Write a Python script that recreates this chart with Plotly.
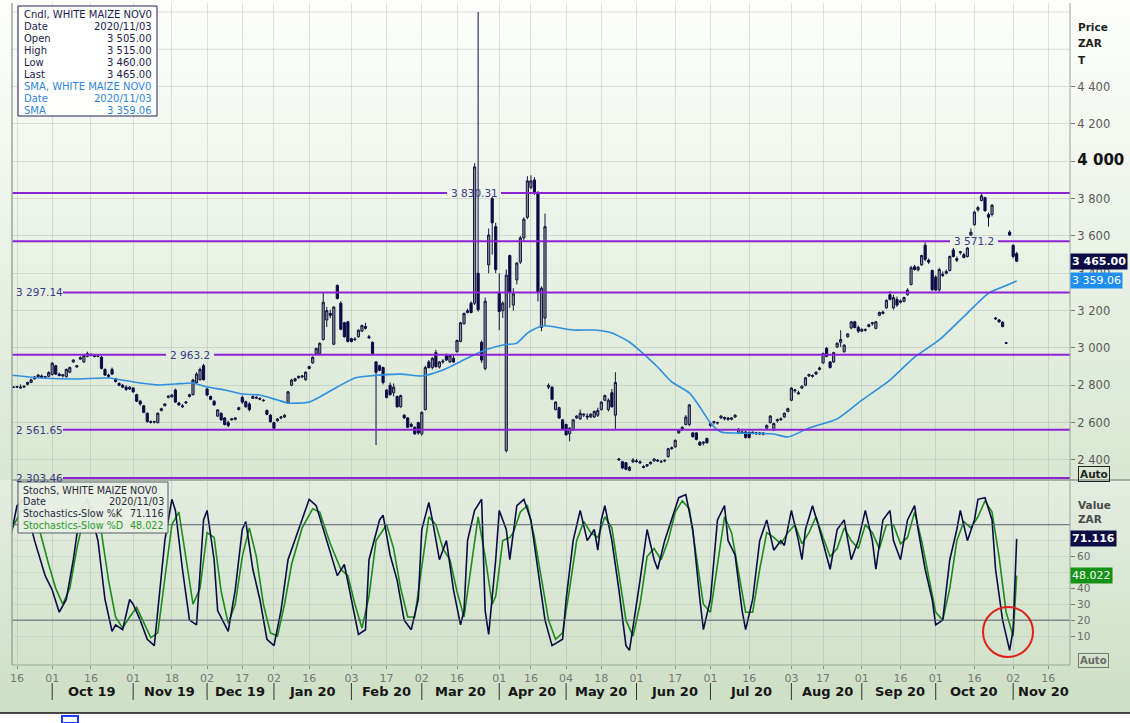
import plotly.graph_objects as go
import pandas as pd

# ---------------- DATA ----------------
holidays = ["2019-09-24", "2019-12-16", "2019-12-25", "2019-12-26", "2020-01-01",
            "2020-04-10", "2020-04-13", "2020-04-27", "2020-05-01", "2020-06-16",
            "2020-08-10", "2020-09-24"]
trade_dates = pd.bdate_range("2019-09-12", periods=287, freq="C", holidays=holidays)

opens = [
 2760,2788,2790,2785,2790,2805,2815,2835,2845,2850,2842,2848,2858,2905,2860,2850,2846,2870,2925,2898,
 2940,2925,2955,2965,2960,2955,2950,2885,2855,2885,2835,2810,2800,2790,2780,2785,2750,2715,2690,2650,
 2605,2603,2600,2665,2690,2735,2738,2775,2705,2690,2705,2740,2750,2815,2830,2905,2780,2740,2715,2635,
 2650,2625,2600,2615,2618,2670,2735,2712,2700,2730,2735,2730,2720,2665,2640,2600,2610,2625,2630,2705,
 2800,2825,2840,2845,2830,2890,2920,2968,2970,3045,3150,3185,3020,3335,3240,3135,3140,3050,3048,3060,
 3090,3115,3060,3030,2925,2905,2895,2775,2800,2760,2740,2685,2640,2625,2590,2575,2600,2540,2670,2925,
 2895,2975,2898,2925,2960,2925,2945,2980,3035,3130,3190,3240,3240,3400,3030,2890,3445,3800,3650,3295,
 3200,2450,3495,3230,3365,3460,3590,3700,3860,3900,3830,3110,3160,2790,2790,2670,2680,2615,2590,2540,
 2560,2625,2620,2640,2635,2630,2630,2640,2670,2720,2670,2760,2640,2400,2390,2385,2360,2390,2395,2390,
 2365,2368,2380,2395,2398,2392,2395,2418,2460,2470,2545,2560,2590,2590,2545,2545,2495,2490,2515,2585,
 2600,2598,2625,2620,2625,2618,2630,2545,2550,2550,2548,2545,2540,2545,2538,2570,2600,2560,2610,2615,
 2630,2660,2720,2770,2760,2785,2800,2850,2848,2860,2885,2920,2998,2925,2925,3005,3030,2980,3060,3107,
 3140,3110,3090,3095,3115,3130,3105,3175,3185,3215,3285,3215,3260,3245,3250,3285,3340,3435,3418,3445,
 3550,3470,3415,3380,3312,3395,3400,3415,3525,3478,3510,3500,3490,3605,3660,3740,3790,3805,3715,3715,
 3155,3150,3138,3028,3620,3550,3505]
highs = [
 2768,2795,2797,2805,2798,2820,2835,2850,2860,2858,2850,2875,2925,2910,2868,2860,2890,2900,2940,2908,
 2955,2965,2980,2972,2966,2965,2958,2890,2862,2895,2840,2815,2808,2800,2795,2790,2755,2722,2695,2655,
 2612,2610,2655,2680,2705,2748,2752,2782,2712,2700,2715,2755,2835,2870,2895,2915,2785,2745,2720,2672,
 2655,2630,2610,2625,2628,2685,2745,2718,2710,2745,2742,2736,2726,2670,2645,2605,2625,2635,2645,2770,
 2835,2840,2852,2855,2875,2905,2955,3000,3030,3295,3220,3205,3225,3340,3250,3140,3145,3055,3058,3100,
 3125,3135,3070,3035,2930,2910,2900,2780,2815,2810,2745,2750,2645,2630,2600,2580,2605,2660,2905,2935,
 2950,2990,2930,2940,2970,2965,2965,3045,3140,3190,3210,3250,3990,4800,3040,3270,3640,3810,3670,3400,
 3250,3420,3500,3320,3460,3600,3700,3920,3925,3915,3840,3330,3720,2810,2795,2715,2685,2620,2595,2575,
 2620,2640,2670,2650,2650,2650,2665,2680,2715,2750,2730,2780,2870,2410,2395,2390,2368,2410,2405,2398,
 2372,2378,2392,2410,2405,2400,2402,2465,2472,2510,2565,2580,2640,2700,2550,2550,2500,2500,2520,2600,
 2610,2605,2640,2632,2630,2630,2645,2570,2558,2555,2552,2552,2550,2550,2548,2590,2640,2600,2622,2628,
 2655,2680,2790,2780,2770,2800,2845,2862,2858,2875,2900,2975,3005,2930,2980,3030,3095,3020,3080,3145,
 3145,3120,3105,3105,3130,3140,3145,3195,3200,3260,3305,3285,3275,3260,3275,3320,3440,3445,3440,3500,
 3567,3480,3420,3390,3430,3410,3420,3495,3535,3490,3520,3510,3540,3640,3735,3760,3825,3810,3725,3770,
 3165,3155,3142,3032,3630,3555,3515]
lows = [
 2755,2785,2786,2783,2788,2800,2812,2830,2840,2838,2838,2845,2852,2855,2848,2842,2842,2865,2922,2895,
 2938,2920,2950,2955,2950,2950,2885,2850,2840,2855,2815,2795,2785,2770,2775,2760,2710,2690,2650,2600,
 2595,2595,2595,2660,2688,2730,2735,2705,2690,2680,2700,2735,2745,2810,2825,2825,2740,2720,2690,2630,
 2610,2585,2575,2610,2612,2665,2700,2680,2660,2728,2728,2720,2712,2640,2600,2565,2605,2618,2625,2700,
 2795,2818,2835,2838,2825,2885,2915,2962,2965,3040,3112,3160,3015,3260,3095,3055,3030,3030,3038,3055,
 3085,3098,3050,2965,2480,2875,2805,2730,2745,2740,2680,2680,2620,2570,2575,2535,2535,2530,2665,2890,
 2885,2895,2890,2915,2930,2920,2920,2975,3030,3125,3185,3185,3230,3195,2920,2880,3400,3500,3400,3095,
 3160,2440,3215,3200,3340,3450,3570,3690,3850,3820,3250,3090,3120,2780,2720,2665,2620,2560,2530,2500,
 2555,2620,2615,2630,2615,2625,2625,2630,2665,2715,2660,2680,2560,2395,2350,2345,2340,2385,2385,2380,
 2355,2362,2375,2390,2390,2385,2388,2412,2455,2465,2540,2555,2585,2580,2520,2505,2475,2478,2488,2575,
 2590,2590,2620,2612,2610,2612,2625,2540,2540,2515,2515,2538,2535,2535,2532,2565,2595,2555,2600,2610,
 2625,2655,2715,2760,2750,2780,2795,2845,2840,2855,2880,2915,2950,2890,2920,3000,3005,2975,3055,3100,
 3105,3080,3085,3088,3110,3120,3100,3170,3180,3210,3255,3205,3220,3238,3245,3280,3335,3415,3410,3440,
 3465,3450,3305,3305,3300,3380,3395,3410,3485,3460,3500,3480,3485,3600,3655,3730,3785,3730,3650,3705,
 3150,3135,3110,3022,3600,3480,3460]
closes = [
 2765,2790,2793,2790,2795,2815,2830,2845,2855,2842,2846,2868,2918,2860,2852,2856,2885,2895,2935,2905,
 2948,2960,2970,2960,2955,2958,2890,2855,2848,2860,2820,2800,2790,2778,2790,2765,2715,2700,2655,2605,
 2602,2605,2650,2675,2700,2742,2748,2710,2695,2685,2710,2750,2828,2860,2885,2830,2748,2725,2695,2668,
 2615,2590,2585,2620,2625,2680,2710,2685,2670,2740,2732,2726,2718,2645,2605,2570,2620,2630,2640,2765,
 2828,2835,2848,2850,2870,2900,2950,2998,3025,3245,3200,3175,3219,3265,3100,3060,3035,3035,3045,3095,
 3120,3105,3055,2970,2870,2880,2815,2735,2750,2790,2685,2745,2625,2575,2580,2540,2545,2655,2895,2895,
 2945,2900,2925,2930,2935,2960,2925,3040,3135,3185,3200,3190,3970,3205,2935,3250,3605,3670,3420,3195,
 3240,3390,3300,3290,3455,3590,3690,3895,3895,3830,3300,3320,3650,2800,2725,2710,2625,2565,2535,2570,
 2615,2635,2650,2645,2630,2645,2660,2665,2710,2745,2720,2685,2815,2405,2357,2350,2345,2400,2392,2385,
 2360,2375,2388,2405,2395,2390,2398,2460,2465,2505,2560,2575,2630,2695,2525,2510,2480,2495,2492,2595,
 2605,2600,2635,2628,2618,2625,2640,2565,2545,2520,2520,2548,2545,2540,2544,2585,2635,2595,2615,2620,
 2650,2675,2785,2775,2755,2795,2840,2858,2852,2870,2893,2970,2955,2895,2975,3025,3045,3015,3075,3140,
 3110,3090,3100,3098,3125,3135,3140,3190,3192,3255,3260,3270,3230,3252,3270,3310,3430,3420,3432,3495,
 3475,3460,3312,3310,3420,3390,3410,3490,3490,3470,3515,3485,3535,3620,3728,3752,3815,3735,3700,3765,
 3160,3140,3115,3025,3605,3490,3465]

# trading-day numbers counted from 16 Sep 2019
sma_day = [-2, 7, 17, 26, 35, 40, 45, 50, 54, 59, 64, 69, 74, 77, 83, 91, 96, 100, 109, 115, 121,
           128, 133, 138, 142, 145, 149, 151, 158, 164, 169, 174, 179, 182, 186, 191, 194, 197,
           200, 205, 215, 219, 225, 233, 240, 248, 255, 262, 270, 276, 280, 284]
sma_val = [2855, 2839, 2834, 2839, 2812, 2802, 2807, 2812, 2791, 2775, 2753, 2748, 2721, 2705,
           2710, 2791, 2839, 2850, 2860, 2850, 2882, 2946, 2989, 3016, 3026, 3080, 3118, 3118,
           3096, 3096, 3080, 3032, 2951, 2898, 2818, 2759, 2684, 2598, 2550, 2544, 2539, 2523,
           2571, 2620, 2720, 2828, 2951, 3043, 3187, 3294, 3327, 3359.06]

k_day = [-2, 0, 2, 5, 8, 10, 12, 14, 16, 18, 20, 23, 25, 27, 28, 30, 32, 33, 35, 37, 39, 40, 42, 44,
         45, 47, 49, 51, 53, 54, 56, 57, 60, 62, 64, 65, 67, 69, 71, 73, 75, 77, 80, 83, 85, 88, 91,
         93, 95, 97, 99, 100, 103, 104, 106, 108, 110, 112, 114, 115, 117, 118, 120, 122, 124, 126,
         127, 128, 130, 132, 133, 134, 136, 137, 139, 140, 142, 144, 146, 148, 150, 152, 155, 156,
         158, 160, 162, 164, 165, 166, 167, 169, 171, 173, 174, 177, 179, 181, 182, 184, 186, 188,
         190, 192, 194, 195, 197, 199, 201, 202, 204, 206, 207, 209, 211, 213, 215, 217, 218, 220,
         222, 223, 224, 226, 228, 231, 233, 235, 237, 239, 241, 243, 244, 246, 248, 249, 251, 253,
         255, 256, 258, 260, 261, 263, 265, 267, 268, 270, 272, 273, 275, 277, 278, 280, 282, 283, 284]
k_val = [70, 92, 96, 70, 48, 39, 25, 33, 58, 89, 96, 70, 33, 13, 17, 14, 33, 30, 20, 8, 4, 26, 70, 96,
         89, 52, 20, 17, 83, 89, 58, 26, 13, 39, 77, 82, 52, 33, 8, 4, 26, 58, 77, 96, 92, 70, 48,
         55, 33, 11, 14, 58, 83, 86, 61, 45, 20, 14, 33, 77, 94, 83, 58, 70, 39, 17,
         26, 70, 89, 96, 26, 11, 58, 89, 77, 58, 92, 96, 83, 52, 20, 4, 8, 33,
         70, 89, 70, 77, 64, 83, 92, 70, 39, 4, 1, 45, 77, 58, 52, 70, 83, 97,
         99, 77, 33, 14, 33, 83, 92, 70, 61, 26, 14, 33, 70, 83, 64, 70, 67, 89,
         70, 58, 77, 92, 77, 52, 77, 83, 58, 70, 89, 70, 52, 83, 89, 70, 58, 83,
         92, 77, 52, 33, 17, 20, 58, 77, 89, 70, 83, 96, 97, 83, 52, 20, 1, 14, 71.116]

d_day = [-2, 1, 3, 6, 9, 11, 13, 15, 17, 19, 21, 24, 26, 28, 30, 32, 34, 36, 38, 40, 42, 44, 46, 48,
         50, 52, 54, 56, 58, 60, 62, 64, 66, 68, 70, 72, 74, 76, 78, 81, 84, 86, 89, 92, 94, 96, 98,
         100, 102, 105, 107, 109, 111, 113, 115, 117, 119, 121, 123, 125, 127, 129, 131, 133, 135,
         136, 138, 140, 141, 143, 145, 147, 149, 151, 153, 155, 157, 159, 161, 163, 165, 167, 169,
         171, 173, 175, 177, 179, 181, 183, 185, 187, 189, 191, 193, 195, 197, 199, 201, 203, 205,
         207, 209, 211, 213, 215, 217, 219, 221, 223, 225, 227, 229, 231, 233, 235, 237, 239, 241,
         243, 245, 247, 249, 251, 253, 255, 257, 259, 261, 263, 265, 267, 269, 271, 273, 275, 277,
         279, 281, 283, 284]
d_val = [75, 88, 92, 80, 55, 40, 30, 40, 65, 85, 92, 75, 45, 22, 15, 22, 28, 18, 9, 12, 45, 80, 88, 60,
         30, 40, 75, 72, 38, 18, 30, 60, 78, 60, 30, 12, 10, 30, 55, 78, 90, 88, 68, 52, 48, 30, 15,
         35, 70, 80, 65, 40, 22, 22, 55, 85, 80, 65, 58, 38, 22, 55, 85, 60, 30,
         35, 70, 72, 75, 88, 92, 72, 45, 20, 8, 12, 40, 70, 82, 75, 72, 85, 78,
         50, 20, 10, 30, 60, 65, 58, 70, 88, 95, 90, 60, 30, 25, 55, 85, 75, 50,
         25, 25, 52, 75, 72, 68, 75, 80, 68, 75, 85, 72, 60, 65, 78, 70, 65, 80,
         75, 65, 80, 80, 68, 72, 88, 70, 48, 25, 20, 40, 70, 82, 78, 85, 95, 88,
         60, 25, 10, 48.022]

level_values = [3830.31, 3571.2, 3297.14, 2963.2, 2561.65, 2303.46]
level_labels = ["3 830.31", "3 571.2", "3 297.14", "2 963.2", "2 561.65", "2 303.46"]

price_ticks = [2400, 2600, 2800, 3000, 3200, 3400, 3600, 3800, 4000, 4200, 4400]
price_ticktext = ["2 400", "2 600", "2 800", "3 000", "3 200", "3 400", "3 600", "3 800",
                  "<span style='font-size:15px;color:#111'><b>4 000</b></span>", "4 200", "4 400"]
stoch_ticks = [10, 20, 30, 40, 50, 60, 70]
stoch_ticktext = ["10", "20", "30", "40", "", "60", ""]

day_tick_dates = ["2019-09-16", "2019-10-01", "2019-10-16", "2019-11-01", "2019-11-18",
                  "2019-12-02", "2019-12-17", "2020-01-02", "2020-01-16", "2020-02-03",
                  "2020-02-17", "2020-03-02", "2020-03-16", "2020-04-01", "2020-04-16",
                  "2020-05-04", "2020-05-18", "2020-06-01", "2020-06-17", "2020-07-01",
                  "2020-07-16", "2020-08-03", "2020-08-17", "2020-09-01", "2020-09-16",
                  "2020-10-01", "2020-10-16", "2020-11-02", "2020-11-16"]
day_tick_text = ["16", "01", "16", "01", "18", "02", "17", "02", "16", "03", "17", "02", "16",
                 "01", "16", "04", "18", "01", "17", "01", "16", "03", "17", "01", "16", "01",
                 "16", "02", "16"]
month_starts = ["2019-10-01", "2019-11-01", "2019-12-02", "2020-01-02", "2020-02-03",
                "2020-03-02", "2020-04-01", "2020-05-04", "2020-06-01", "2020-07-01",
                "2020-08-03", "2020-09-01", "2020-10-01", "2020-11-02"]
month_labels = ["Oct 19", "Nov 19", "Dec 19", "Jan 20", "Feb 20", "Mar 20", "Apr 20",
                "May 20", "Jun 20", "Jul 20", "Aug 20", "Sep 20", "Oct 20", "Nov 20"]

# ---------------- helpers (pixel -> paper, layout only) ----------------
W, H = 1130, 723
ML, MR, MT, MB = 12, 60, 3, 58
PW, PH = W - ML - MR, H - MT - MB


def px(x):
    return (x - ML) / PW


def py(y):
    return (H - MB - y) / PH


day0 = trade_dates.get_loc(pd.Timestamp("2019-09-16"))
FONT = "DejaVu Sans"
NAVY = "#0b0b45"
PURPLE = "#8a24d4"

fig = go.Figure()

fig.add_trace(go.Candlestick(
    x=trade_dates, open=opens, high=highs, low=lows, close=closes,
    increasing=dict(line=dict(color="#14143f", width=1), fillcolor="#8b8e98"),
    decreasing=dict(line=dict(color=NAVY, width=1), fillcolor=NAVY),
    whiskerwidth=0, xaxis="x", yaxis="y", showlegend=False, hoverinfo="skip"))

fig.add_trace(go.Scatter(
    x=[trade_dates[day0 + d] for d in sma_day], y=sma_val, mode="lines",
    line=dict(color="#2d8fe0", width=1.6, shape="spline", smoothing=0.6),
    xaxis="x", yaxis="y", showlegend=False, hoverinfo="skip"))

fig.add_trace(go.Scatter(
    x=[trade_dates[day0 + d] for d in d_day], y=d_val, mode="lines",
    line=dict(color="#1d8a1d", width=1.6), xaxis="x", yaxis="y2",
    showlegend=False, hoverinfo="skip"))
fig.add_trace(go.Scatter(
    x=[trade_dates[day0 + d] for d in k_day], y=k_val, mode="lines",
    line=dict(color=NAVY, width=1.6), xaxis="x", yaxis="y2",
    showlegend=False, hoverinfo="skip"))

shapes = []


def mix(c1, c2, t):
    return "rgb(%d,%d,%d)" % tuple(round(a + (b - a) * t) for a, b in zip(c1, c2))


N = 40
for k in range(N):
    y0 = 480 * k / N
    y1 = 480 * (k + 1) / N + 0.5
    shapes.append(dict(type="rect", xref="paper", yref="paper", x0=px(0), x1=px(W),
                       y0=py(y1), y1=py(y0), fillcolor=mix((253, 254, 252), (217, 231, 210), k / (N - 1)),
                       line=dict(width=0), layer="below"))
for k in range(N):
    y0 = 480 + 233 * k / N
    y1 = 480 + 233 * (k + 1) / N + 0.5
    shapes.append(dict(type="rect", xref="paper", yref="paper", x0=px(0), x1=px(W),
                       y0=py(y1), y1=py(y0), fillcolor=mix((228, 237, 224), (205, 223, 197), k / (N - 1)),
                       line=dict(width=0), layer="below"))

for gv in [4600, 4800]:
    shapes.append(dict(type="line", xref="paper", yref="y", x0=0, x1=1, y0=gv, y1=gv,
                       line=dict(color="rgba(160,170,160,0.35)", width=1), layer="below"))

level_place = {"3 830.31": ("mid", 474, 27), "3 571.2": ("mid", 974, 24), "2 963.2": ("mid", 190, 24),
               "3 297.14": ("left", 14, 0), "2 561.65": ("left", 14, 0), "2 303.46": ("left", 14, 0)}
annotations = []
for val, lab in zip(level_values, level_labels):
    kind, cx, half = level_place[lab]
    if kind == "mid":
        segs = [(12, cx - half), (cx + half, 1070)]
        annotations.append(dict(x=px(cx), y=val, xref="paper", yref="y", text=lab, showarrow=False,
                                xanchor="center", yanchor="middle",
                                font=dict(family=FONT, size=10.5, color="#3a3a8a")))
    else:
        segs = [(63, 1070)]
        annotations.append(dict(x=px(cx), y=val, xref="paper", yref="y", text=lab, showarrow=False,
                                xanchor="left", yanchor="middle",
                                font=dict(family=FONT, size=10.5, color="#3a3a8a")))
    for a, b in segs:
        shapes.append(dict(type="line", xref="paper", yref="y", x0=px(a), x1=px(b), y0=val, y1=val,
                           line=dict(color=PURPLE, width=2), layer="above"))

for lv in [80, 20]:
    shapes.append(dict(type="line", xref="paper", yref="y2", x0=0, x1=1, y0=lv, y1=lv,
                       line=dict(color="#56616c", width=1), layer="above"))

shapes.append(dict(type="line", xref="paper", yref="paper", x0=px(12), x1=px(1130), y0=py(480), y1=py(480),
                   line=dict(color="#8e9a8e", width=1.5)))
shapes.append(dict(type="line", xref="paper", yref="paper", x0=0, x1=0, y0=0, y1=1,
                   line=dict(color="#9aa69a", width=1.5)))
shapes.append(dict(type="line", xref="paper", yref="paper", x0=1, x1=1, y0=0, y1=1,
                   line=dict(color="#9aa69a", width=1)))
shapes.append(dict(type="line", xref="paper", yref="paper", x0=0, x1=1, y0=0, y1=0,
                   line=dict(color="#9aa69a", width=1)))

for ms in month_starts:
    shapes.append(dict(type="line", xref="x", yref="paper", x0=ms, x1=ms, y0=py(700), y1=py(683),
                       line=dict(color="#333", width=1)))

shapes.append(dict(type="circle", xref="paper", yref="paper", x0=px(983), x1=px(1033),
                   y0=py(657), y1=py(607), line=dict(color="#e0201c", width=2)))

shapes.append(dict(type="rect", xref="paper", yref="paper", x0=px(0), x1=px(W), y0=py(H), y1=py(713),
                   fillcolor="white", line=dict(width=0)))
shapes.append(dict(type="line", xref="paper", yref="paper", x0=px(0), x1=px(W), y0=py(713), y1=py(713),
                   line=dict(color="#111", width=1.5)))
shapes.append(dict(type="rect", xref="paper", yref="paper", x0=px(62), x1=px(78), y0=py(723), y1=py(716),
                   line=dict(color="#1f3cff", width=2)))

shapes.append(dict(type="rect", xref="paper", yref="paper", x0=px(18), x1=px(157), y0=py(116), y1=py(6),
                   fillcolor="rgba(255,255,255,0.92)", line=dict(color="#22225a", width=1)))
shapes.append(dict(type="rect", xref="paper", yref="paper", x0=px(18), x1=px(168), y0=py(533), y1=py(482),
                   fillcolor="rgba(232,239,228,0.95)", line=dict(color="#555f66", width=1)))


def txt(x, y, s, color="#1a1a40", anchor="left", size=10, bold=False, bg=None, border=None):
    d = dict(x=px(x), y=py(y), xref="paper", yref="paper", text=("<b>%s</b>" % s) if bold else s,
             showarrow=False, xanchor=anchor, yanchor="middle",
             font=dict(family=FONT, size=size, color=color))
    if bg:
        d["bgcolor"] = bg
    if border:
        d["bordercolor"] = border
        d["borderwidth"] = 1
        d["borderpad"] = 1
    annotations.append(d)


c1 = "#1c1c4e"
c2 = "#2f86d6"
rows = [("Cndl, WHITE MAIZE NOV0", "", c1), ("Date", "2020/11/03", c1), ("Open", "3 505.00", c1),
        ("High", "3 515.00", c1), ("Low", "3 460.00", c1), ("Last", "3 465.00", c1),
        ("SMA, WHITE MAIZE NOV0", "", c2), ("Date", "2020/11/03", c2), ("SMA", "3 359.06", c2)]
for n, (a, b, c) in enumerate(rows):
    yy = 15 + n * 11.9
    txt(22, yy, a, c)
    if b:
        txt(154, yy, b, c, anchor="right")

c3 = "#2a2a40"
c4 = "#2a9a2a"
rows2 = [("StochS, WHITE MAIZE NOV0", "", c3), ("Date", "2020/11/03", c3),
         ("Stochastics-Slow %K", "71.116", c3), ("Stochastics-Slow %D", "48.022", c4)]
for n, (a, b, c) in enumerate(rows2):
    yy = 490 + n * 11.8
    txt(21, yy, a, c, size=9.6)
    if b:
        txt(166, yy, b, c, anchor="right", size=9.6)

for s, yy in [("Price", 27), ("ZAR", 43), ("T", 60), ("Value", 505), ("ZAR", 519)]:
    txt(1076, yy, s, "#1e1e1e" if yy < 100 else "#4a4a4a", size=10.5, bold=True)
txt(1078, 474, "Auto", "#222", size=10.5, bold=True, bg="rgba(0,0,0,0)", border="#222")
txt(1078, 660, "Auto", "#6a6a6a", size=10, bold=True, bg="rgba(0,0,0,0)", border="#777")

annotations.append(dict(x=1.0, y=3465, xref="paper", yref="y", text="<b>3 465.00</b>", showarrow=False,
                        xanchor="left", yanchor="middle", bgcolor=NAVY, borderpad=1,
                        font=dict(family=FONT, size=11, color="white")))
annotations.append(dict(x=1.0, y=3359.06, xref="paper", yref="y", text="3 359.06", showarrow=False,
                        xanchor="left", yanchor="middle", bgcolor="#1e8ff0", borderpad=1,
                        font=dict(family=FONT, size=11, color="white")))
annotations.append(dict(x=1.0, y=71.116, xref="paper", yref="y2", text="<b>71.116</b>", showarrow=False,
                        xanchor="left", yanchor="middle", bgcolor=NAVY, borderpad=1,
                        font=dict(family=FONT, size=11, color="white")))
annotations.append(dict(x=1.0, y=48.022, xref="paper", yref="y2", text="48.022", showarrow=False,
                        xanchor="left", yanchor="middle", bgcolor="#129212", borderpad=1,
                        font=dict(family=FONT, size=11, color="white")))

month_px = [92, 169, 240, 312, 386, 460, 532, 601, 674, 751, 827, 900, 974, 1043]
for lab, mx in zip(month_labels, month_px):
    txt(mx, 691, lab, "#161616", anchor="center", size=13, bold=True)

grid_c = "rgba(150,162,150,0.30)"
fig.update_layout(
    width=W, height=H, margin=dict(l=ML, r=MR, t=MT, b=MB),
    paper_bgcolor="#d3e3cb", plot_bgcolor="rgba(0,0,0,0)",
    showlegend=False, shapes=shapes, annotations=annotations,
    font=dict(family=FONT), boxgap=0.12,
    xaxis=dict(type="date", anchor="y2", domain=[0, 1],
               range=["2019-09-12 13:54", "2020-11-24 03:36"],
               rangebreaks=[dict(bounds=["sat", "mon"]), dict(values=holidays)],
               rangeslider=dict(visible=False),
               tickmode="array", tickvals=day_tick_dates, ticktext=day_tick_text,
               ticks="outside", ticklen=3, tickcolor="#888",
               tickfont=dict(family=FONT, size=11, color="#777"),
               showgrid=True, gridcolor=grid_c, gridwidth=1, zeroline=False, showline=False),
    yaxis=dict(domain=[py(479), 1.0], range=[2298, 4848], side="right", anchor="x",
               tickmode="array", tickvals=price_ticks, ticktext=price_ticktext,
               ticks="outside", ticklen=4, tickcolor="#777",
               tickfont=dict(family=FONT, size=11.5, color="#5a5a5a"),
               showgrid=True, gridcolor=grid_c, zeroline=False, showline=False, automargin=False),
    yaxis2=dict(domain=[0, py(481)], range=[-8.2, 107.5], side="right", anchor="x",
                tickmode="array", tickvals=stoch_ticks, ticktext=stoch_ticktext,
                ticks="outside", ticklen=4, tickcolor="#777",
                tickfont=dict(family=FONT, size=10.5, color="#6a6a6a"),
                showgrid=True, gridcolor="rgba(150,162,150,0.18)", zeroline=False, showline=False,
                automargin=False),
)

fig.write_html("out.html", config={"displayModeBar": False},
               post_script="document.body.style.margin='0px';")
